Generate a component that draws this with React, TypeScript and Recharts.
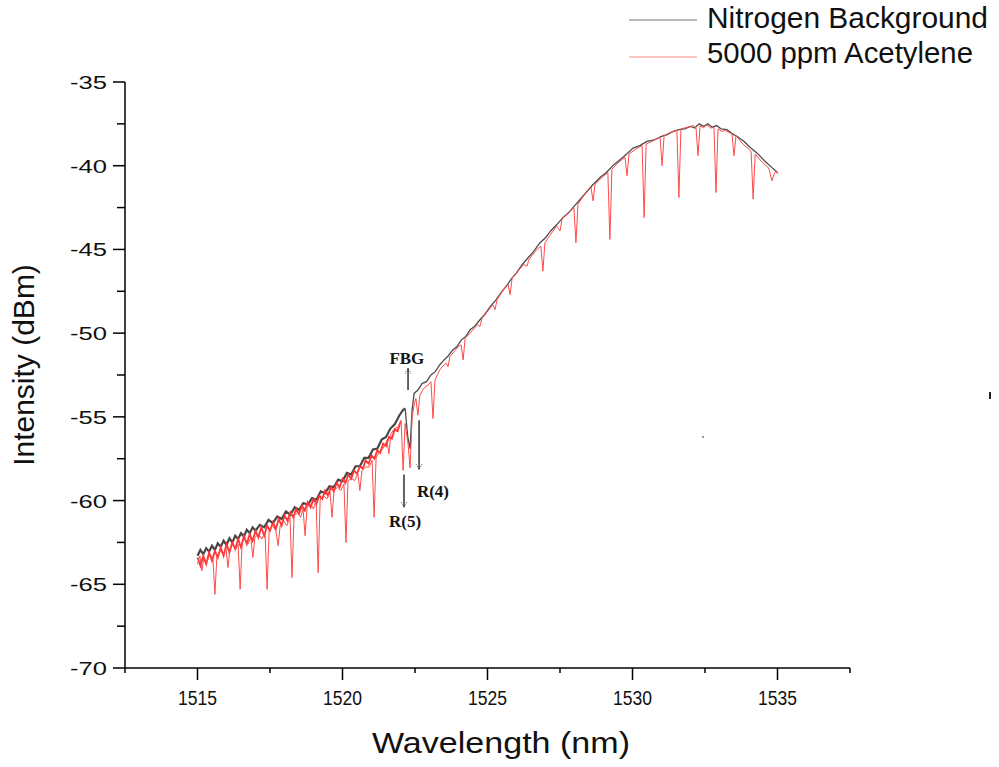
import React from 'react';
import { LineChart, Line, XAxis, YAxis, ReferenceLine, ReferenceDot } from 'recharts';

// axis ticks
const xMajorTicks = [1515, 1520, 1525, 1530, 1535];
const xMinorTicks = [1512.5, 1517.5, 1522.5, 1527.5, 1532.5, 1537.5];
const yMajorTicks = [-70, -65, -60, -55, -50, -45, -40, -35];
const yMinorTicks = [-67.5, -62.5, -57.5, -52.5, -47.5, -42.5, -37.5];

// Nitrogen background, [wavelength nm, intensity dBm]
const nitrogenLow: [number, number][] = [
  [1515.0, -63.3], [1515.1, -62.95], [1515.2, -63.2], [1515.3, -62.85], [1515.4, -63.05],
  [1515.5, -62.7], [1515.6, -62.95], [1515.7, -62.55], [1515.8, -62.75], [1515.9, -62.4],
  [1516.0, -62.65], [1516.1, -62.25], [1516.2, -62.5], [1516.3, -62.1], [1516.4, -62.3],
  [1516.5, -61.95], [1516.6, -62.15], [1516.7, -61.75], [1516.8, -61.95], [1516.9, -61.6],
  [1517.0, -61.8], [1517.15, -61.45], [1517.3, -61.6], [1517.45, -61.15], [1517.6, -61.35],
  [1517.75, -60.95], [1517.9, -61.1], [1518.05, -60.65], [1518.2, -60.85], [1518.35, -60.4],
  [1518.5, -60.55], [1518.65, -60.15], [1518.8, -60.25], [1518.95, -59.85], [1519.1, -59.95],
  [1519.25, -59.45], [1519.4, -59.55], [1519.55, -59.15], [1519.7, -59.2], [1519.85, -58.75],
  [1520.0, -58.85], [1520.15, -58.35], [1520.3, -58.45], [1520.45, -57.95], [1520.6, -57.95],
  [1520.75, -57.45], [1520.9, -57.45], [1521.05, -56.95], [1521.2, -56.9], [1521.35, -56.35],
  [1521.5, -56.2], [1521.65, -55.7], [1521.8, -55.45], [1521.95, -54.95], [1522.08, -54.6],
  [1522.16, -54.5],
];

// the FBG notch
const nitrogenFbg: [number, number][] = [
  [1522.16, -54.5], [1522.25, -56.2], [1522.33, -56.9], [1522.4, -54.6], [1522.47, -53.6],
];

const nitrogenHigh: [number, number][] = [
  [1522.47, -53.6], [1522.6, -53.4], [1522.75, -53.0], [1522.9, -52.9], [1523.05, -52.5],
  [1523.2, -52.3], [1523.35, -51.9], [1523.5, -51.6], [1523.65, -51.35], [1523.8, -51.0],
  [1523.95, -50.8], [1524.1, -50.4], [1524.25, -50.2], [1524.4, -49.8], [1524.55, -49.6],
  [1524.74, -49.2], [1524.9, -48.9], [1525.1, -48.4], [1525.3, -48.0], [1525.5, -47.5],
  [1525.65, -47.2], [1525.8, -46.8], [1526.0, -46.4], [1526.2, -45.9], [1526.4, -45.5],
  [1526.6, -45.1], [1526.81, -44.6], [1527.0, -44.3], [1527.2, -43.85], [1527.4, -43.5],
  [1527.6, -43.1], [1527.8, -42.8], [1528.0, -42.4], [1528.2, -42.0], [1528.4, -41.6],
  [1528.6, -41.2], [1528.88, -40.7], [1529.1, -40.4], [1529.35, -39.95], [1529.6, -39.6],
  [1529.8, -39.3], [1530.02, -38.95], [1530.25, -38.8], [1530.5, -38.55], [1530.75, -38.45],
  [1531.0, -38.25], [1531.2, -38.15], [1531.4, -37.95], [1531.6, -37.85], [1531.8, -37.8],
  [1532.0, -37.65], [1532.15, -37.75], [1532.3, -37.5], [1532.45, -37.65], [1532.6, -37.5],
  [1532.75, -37.7], [1532.9, -37.6], [1533.05, -37.8], [1533.26, -37.85], [1533.45, -38.1],
  [1533.65, -38.3], [1533.85, -38.55], [1534.05, -38.9], [1534.3, -39.25], [1534.55, -39.7],
  [1534.8, -40.1], [1535.0, -40.4],
];

// 5000 ppm acetylene, [wavelength nm, intensity dBm]
const acetyleneLow: [number, number][] = [
  [1515.0, -63.8], [1515.08, -63.3], [1515.15, -64.2], [1515.22, -63.4], [1515.32, -63.7],
  [1515.42, -63.2], [1515.53, -63.4], [1515.6, -65.6], [1515.67, -63.3], [1515.78, -63.0],
  [1515.9, -63.2], [1515.98, -62.8], [1516.05, -64.0], [1516.12, -62.9], [1516.22, -62.6],
  [1516.32, -62.9], [1516.4, -62.6], [1516.47, -65.3], [1516.54, -62.5], [1516.64, -62.3],
  [1516.74, -62.6], [1516.84, -62.2], [1516.91, -63.4], [1516.98, -62.2], [1517.1, -62.0],
  [1517.22, -62.3], [1517.33, -61.9], [1517.4, -65.3], [1517.47, -61.8], [1517.58, -61.5],
  [1517.7, -61.8], [1517.78, -62.7], [1517.85, -61.5], [1517.97, -61.2], [1518.08, -61.5],
  [1518.19, -61.0], [1518.26, -64.6], [1518.33, -60.9], [1518.45, -60.7], [1518.56, -61.0],
  [1518.64, -60.5], [1518.71, -62.1], [1518.78, -60.4], [1518.9, -60.2], [1519.0, -60.5],
  [1519.09, -60.0], [1519.16, -64.3], [1519.23, -59.9], [1519.35, -59.7], [1519.46, -59.9],
  [1519.57, -59.5], [1519.64, -61.0], [1519.71, -59.4], [1519.83, -59.2], [1519.94, -59.4],
  [1520.05, -59.0], [1520.12, -62.5], [1520.19, -58.8], [1520.31, -58.7], [1520.42, -58.8],
  [1520.53, -58.4], [1520.6, -59.4], [1520.67, -58.2], [1520.8, -58.0], [1520.92, -58.0],
  [1521.02, -57.6], [1521.09, -61.0], [1521.16, -57.4], [1521.28, -57.1], [1521.4, -56.9],
  [1521.53, -56.4], [1521.6, -57.2], [1521.67, -56.0], [1521.8, -55.7], [1521.92, -55.6],
  [1522.02, -55.2], [1522.09, -58.2], [1522.16, -55.4], [1522.26, -56.6], [1522.33, -58.05],
  [1522.4, -55.0], [1522.48, -54.2],
];

// dense noise band of the acetylene trace at the short-wavelength end
const acetyleneBand: [number, number][] = [
  [1515.0, -63.4], [1515.1, -63.9], [1515.2, -63.3], [1515.3, -63.8], [1515.4, -63.1],
  [1515.5, -63.6], [1515.6, -63.0], [1515.7, -63.4], [1515.8, -62.8], [1515.9, -63.3],
  [1516.0, -62.6], [1516.1, -63.1], [1516.2, -62.5], [1516.3, -62.9], [1516.4, -62.3],
  [1516.5, -62.8], [1516.6, -62.1], [1516.7, -62.6], [1516.8, -62.0], [1516.9, -62.4],
  [1517.0, -61.8], [1517.1, -62.2], [1517.2, -61.6], [1517.3, -62.1], [1517.4, -61.5],
  [1517.5, -61.8], [1517.6, -61.3], [1517.7, -61.7], [1517.8, -61.1], [1517.9, -61.5],
  [1518.0, -60.9], [1518.1, -61.2], [1518.2, -60.7], [1518.3, -61.0], [1518.4, -60.5],
  [1518.5, -60.8], [1518.6, -60.3], [1518.7, -60.6], [1518.8, -60.1], [1518.9, -60.4],
  [1519.0, -59.9], [1519.1, -60.2], [1519.2, -59.7], [1519.3, -59.9], [1519.4, -59.4],
  [1519.5, -59.7], [1519.6, -59.2], [1519.7, -59.45], [1519.8, -58.95], [1519.9, -59.2],
  [1520.0, -58.7], [1520.1, -58.95], [1520.2, -58.45], [1520.3, -58.7], [1520.4, -58.2],
  [1520.5, -58.4], [1520.6, -57.95], [1520.7, -58.1], [1520.8, -57.6], [1520.9, -57.8],
  [1521.0, -57.3], [1521.1, -57.5], [1521.2, -57.0], [1521.3, -57.15], [1521.4, -56.6],
  [1521.5, -56.75], [1521.6, -56.2], [1521.7, -56.3], [1521.8, -55.75], [1521.9, -55.85],
  [1522.0, -55.3],
];

const acetyleneMid: [number, number][] = [
  [1522.53, -53.9], [1522.6, -54.9], [1522.67, -53.7], [1522.8, -53.3], [1522.95, -53.1],
  [1523.05, -52.9], [1523.12, -55.1], [1523.19, -52.8], [1523.35, -52.2], [1523.5, -51.9],
  [1523.58, -51.8], [1523.64, -52.0], [1523.7, -51.4], [1523.85, -51.1], [1524.0, -50.8],
  [1524.09, -50.7], [1524.16, -51.6], [1524.23, -50.3], [1524.4, -50.0], [1524.55, -49.7],
  [1524.67, -49.5], [1524.74, -49.6], [1524.81, -49.1], [1525.0, -48.7], [1525.18, -48.3],
  [1525.26, -48.6], [1525.33, -48.0], [1525.55, -47.4], [1525.71, -47.1], [1525.78, -47.7],
  [1525.85, -46.7], [1526.05, -46.3], [1526.25, -45.9], [1526.36, -46.0], [1526.43, -45.6],
  [1526.65, -45.1], [1526.84, -44.8], [1526.91, -46.3], [1526.98, -44.6], [1527.18, -44.1],
  [1527.38, -43.6], [1527.5, -43.9], [1527.57, -43.2], [1527.8, -42.8], [1527.98, -42.5],
  [1528.05, -44.6], [1528.12, -42.3], [1528.35, -41.7], [1528.57, -41.3], [1528.64, -42.1],
  [1528.71, -41.1], [1528.95, -40.7],
];

const acetyleneHigh: [number, number][] = [
  [1529.15, -40.4], [1529.22, -44.4], [1529.29, -40.2], [1529.52, -39.8], [1529.74, -39.5],
  [1529.81, -40.6], [1529.88, -39.3], [1530.12, -39.0], [1530.33, -38.8], [1530.4, -43.1],
  [1530.47, -38.7], [1530.72, -38.5], [1530.95, -38.3], [1531.02, -40.0], [1531.09, -38.2],
  [1531.33, -38.0], [1531.53, -37.9], [1531.6, -41.9], [1531.67, -37.8], [1531.9, -37.7],
  [1532.1, -37.6], [1532.19, -37.75], [1532.26, -39.4], [1532.33, -37.6], [1532.45, -37.75],
  [1532.55, -37.55], [1532.7, -37.75], [1532.81, -37.7], [1532.88, -41.6], [1532.95, -37.8],
  [1533.08, -37.95], [1533.2, -37.9], [1533.43, -38.1], [1533.5, -39.4], [1533.57, -38.2],
  [1533.8, -38.7], [1534.0, -39.0], [1534.09, -39.15], [1534.16, -42.0], [1534.23, -39.3],
  [1534.45, -39.75], [1534.7, -40.15], [1534.81, -40.9], [1534.88, -40.5], [1534.95, -40.3],
  [1535.0, -40.5],
];

const toRows = (pts: [number, number][]) => pts.map(([x, y]) => ({ x, y }));
const nitrogenNoisy = toRows(nitrogenLow);
const nitrogenSmooth = toRows([...nitrogenFbg, ...nitrogenHigh]);
const acetyleneNoise = toRows(acetyleneBand);
const acetyleneData = toRows([...acetyleneLow, ...acetyleneMid, ...acetyleneHigh]);

// annotation arrows: shaft position, start and end, label centre
const arrows = [
  { name: 'FBG', x: 1522.26, from: -53.4, to: -52.1, label: { x: 1522.22, y: -51.5 } },
  { name: 'R(4)', x: 1522.64, from: -55.2, to: -58.15, label: { x: 1523.12, y: -59.4 } },
  { name: 'R(5)', x: 1522.12, from: -58.45, to: -60.4, label: { x: 1522.16, y: -61.2 } },
];

const SANS = '"Liberation Sans", Arial, Helvetica, sans-serif';
const SERIF = '"Liberation Serif", "Times New Roman", serif';

const XTick = (props: any) => {
  const { x, y, payload } = props;
  const major = xMajorTicks.includes(payload.value);
  return (
    <g>
      <line x1={x} y1={y} x2={x} y2={y + (major ? 12 : 5)} stroke="#000" strokeWidth={1.5} />
      {major && (
        <text x={x} y={y + 37} textAnchor="middle" fontSize={20} fontFamily={SANS} fill="#111"
          textLength={39} lengthAdjust="spacingAndGlyphs">
          {payload.value}
        </text>
      )}
    </g>
  );
};

const YTick = (props: any) => {
  const { x, y, payload } = props;
  const major = yMajorTicks.includes(payload.value);
  return (
    <g>
      <line x1={x} y1={y} x2={x - (major ? 12 : 8)} y2={y} stroke="#000" strokeWidth={1.5} />
      {major && (
        <text x={x - 18} y={y + 7} textAnchor="end" fontSize={18} fontFamily={SANS} fill="#111"
          textLength={37} lengthAdjust="spacingAndGlyphs">
          {payload.value}
        </text>
      )}
    </g>
  );
};

const App: React.FC = () => {
  return (
    <div style={{ position: 'absolute', left: 0, top: 0, width: 999, height: 767, background: '#fff' }}>
      <LineChart width={999} height={767} margin={{ top: 82, right: 149, bottom: 0, left: 0 }}>
        <XAxis
          type="number"
          dataKey="x"
          domain={[1512.5, 1537.5]}
          ticks={[...xMinorTicks, ...xMajorTicks].sort((a, b) => a - b)}
          interval={0}
          height={99}
          tickSize={0}
          tickMargin={0}
          tickLine={false}
          axisLine={{ stroke: '#000', strokeWidth: 1.5 }}
          tick={XTick}
          allowDataOverflow
          label={{
            content: () => (
              <text x={501} y={753} textAnchor="middle" fontSize={30} fontFamily={SANS} fill="#111"
                textLength={258} lengthAdjust="spacingAndGlyphs">
                Wavelength (nm)
              </text>
            ),
          }}
        />
        <YAxis
          type="number"
          domain={[-70, -35]}
          ticks={[...yMajorTicks, ...yMinorTicks].sort((a, b) => a - b)}
          interval={0}
          width={125}
          tickSize={0}
          tickMargin={0}
          tickLine={false}
          axisLine={{ stroke: '#000', strokeWidth: 1.5 }}
          tick={YTick}
          allowDataOverflow
          label={{
            content: () => (
              <text x={34} y={365} transform="rotate(-90 34 365)" textAnchor="middle" fontSize={30}
                fontFamily={SANS} fill="#111">
                Intensity (dBm)
              </text>
            ),
          }}
        />
        <Line
          data={nitrogenNoisy}
          dataKey="y"
          type="linear"
          stroke="#474747"
          strokeWidth={2.2}
          dot={false}
          isAnimationActive={false}
        />
        <Line
          data={nitrogenSmooth}
          dataKey="y"
          type="linear"
          stroke="#4d4d4d"
          strokeWidth={1.3}
          dot={false}
          isAnimationActive={false}
        />
        <Line
          data={acetyleneNoise}
          dataKey="y"
          type="linear"
          stroke="#ff3535"
          strokeWidth={1.8}
          dot={false}
          isAnimationActive={false}
        />
        <Line
          data={acetyleneData}
          dataKey="y"
          type="linear"
          stroke="#ff4a4a"
          strokeWidth={1}
          dot={false}
          isAnimationActive={false}
        />
        {arrows.map((a) => (
          <ReferenceLine key={a.name + 's'} segment={[{ x: a.x, y: a.from }, { x: a.x, y: a.to }]}
            stroke="#111" strokeWidth={1.3} />
        ))}
        {arrows.map((a) => {
          const dir = a.to > a.from ? -1 : 1;
          return (
            <ReferenceLine key={a.name + 'h1'}
              segment={[{ x: a.x - 0.1, y: a.to + dir * 0.32 }, { x: a.x, y: a.to }]}
              stroke="#333" strokeWidth={0.8} strokeDasharray="1 1" />
          );
        })}
        {arrows.map((a) => {
          const dir = a.to > a.from ? -1 : 1;
          return (
            <ReferenceLine key={a.name + 'h2'}
              segment={[{ x: a.x + 0.1, y: a.to + dir * 0.32 }, { x: a.x, y: a.to }]}
              stroke="#333" strokeWidth={0.8} strokeDasharray="1 1" />
          );
        })}
        {arrows.map((a) => (
          <ReferenceDot key={a.name + 'l'} x={a.label.x} y={a.label.y} r={0}
            shape={(p: any) => (
              <text x={p.cx} y={p.cy + 6} textAnchor="middle" fontSize={17} fontWeight="bold"
                fontFamily={SERIF} fill="#151515">
                {a.name}
              </text>
            )}
          />
        ))}
        <ReferenceDot x={1532.43} y={-56.2} r={1} fill="#777" stroke="none" />
      </LineChart>

      <svg width={999} height={80} style={{ position: 'absolute', left: 0, top: 0 }}>
        <line x1={629} y1={20} x2={697} y2={20} stroke="#a0a0a0" strokeWidth={1.5} />
        <text x={707} y={28} fontSize={29} fontFamily={SANS} fill="#111" textLength={281}
          lengthAdjust="spacingAndGlyphs">Nitrogen Background</text>
        <line x1={629} y1={57} x2={697} y2={57} stroke="#ffb0b0" strokeWidth={1.5} />
        <text x={707} y={63} fontSize={29} fontFamily={SANS} fill="#111" textLength={266}
          lengthAdjust="spacingAndGlyphs">5000 ppm Acetylene</text>
      </svg>
      <div style={{ position: 'absolute', left: 989, top: 392, width: 2, height: 7, background: '#222' }} />
    </div>
  );
};

export default App;
